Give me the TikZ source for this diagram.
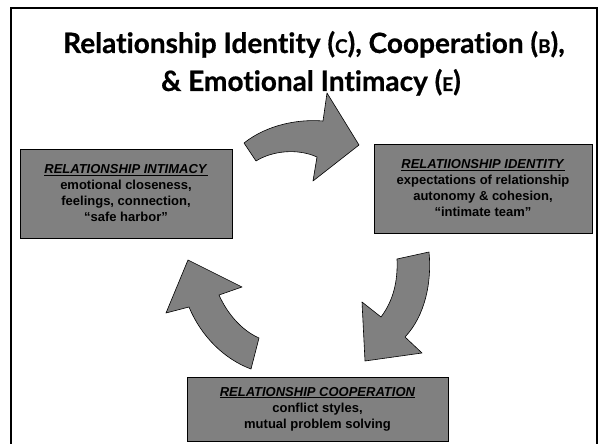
\documentclass[tikz,border=0pt]{standalone}
\usepackage{fontspec}
\setmainfont{Liberation Sans}
\newfontfamily\titlefont[Ligatures={NoCommon,NoContextual},FakeBold=0.6]{Lato}
\usetikzlibrary{positioning}
\definecolor{boxgray}{HTML}{808080}
\newcommand{\minicap}[1]{{\fontsize{19}{20}\selectfont #1}}
\tikzset{every picture/.style={line width=0.75pt}}
\tikzset{
  stage/.style={draw=black, fill=boxgray, line width=0.8pt, align=center,
    font=\fontsize{13}{16}\selectfont\bfseries, inner sep=0pt},
  cyclearrow/.style={draw=black, fill=boxgray, line width=0.6pt, line join=round},
  heading/.style={font=\titlefont\fontsize{28}{32}\selectfont\bfseries, anchor=base, inner sep=0pt},
}

\begin{document}
\begin{tikzpicture}[x=1pt,y=-1pt]
        \useasboundingbox (0,0) rectangle (600,444);
        % frame
        \draw[line width=2pt] (11,446) -- (11,8) -- (597,8) -- (597,446);
        % title
        \node[heading] (title1) at (314,53) {Relationship Identity (\minicap{C}), Cooperation (\minicap{B}),};
        \node[heading] (title2) at (311,91) {\& Emotional Intimacy (\minicap{E})};
        % stages
        \node[stage, minimum width=212pt, minimum height=89pt] (intimacy) at (126,193.5)
            {\underline{\textit{RELATIONSHIP INTIMACY}}\\emotional closeness,\\feelings, connection,\\“safe harbor”};
        \node[stage, minimum width=218pt, minimum height=89pt] (identity) at (483,188.5)
            {\underline{\textit{RELATIIONSHIP IDENTITY}}\\expectations of relationship\\autonomy \& cohesion,\\“intimate team”};
        \node[stage, minimum width=261pt, minimum height=64pt] (cooperation) at (317.5,409)
            {\underline{\textit{RELATIONSHIP COOPERATION}}\\conflict styles,\\mutual problem solving};
        % arrows between stages
        \draw[cyclearrow] (244,143) .. controls (268,124) and (300,119) .. (323,121)
            -- (327,93) -- (359,145) -- (313,181) -- (317,157)
            .. controls (297,148) and (272,151) .. (256,161) -- cycle;
        \draw[cyclearrow] (429,252) .. controls (432,282) and (425,316) .. (405,337)
            -- (422,353) -- (365,361) -- (362,302) -- (381,317)
            .. controls (393,301) and (398,282) .. (397,259) -- cycle;
        \draw[cyclearrow] (259,338) .. controls (241,330) and (227,313) .. (219,295)
            -- (242,287) -- (188,260) -- (166,313) -- (189,307)
            .. controls (201,336) and (224,359) .. (251,369) -- cycle;
\end{tikzpicture}
\end{document}
